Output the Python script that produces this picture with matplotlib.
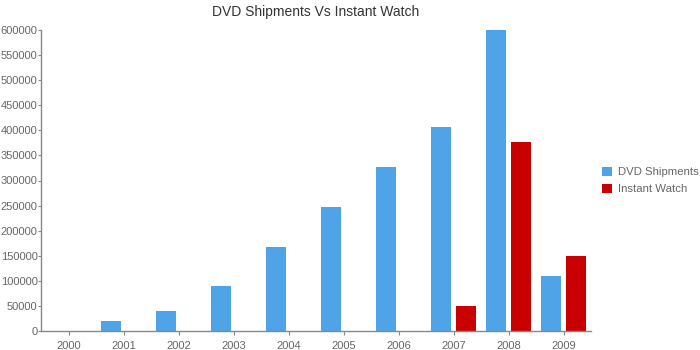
import numpy as np
import matplotlib
matplotlib.use('Agg')
import matplotlib.pyplot as plt

years = ['2000', '2001', '2002', '2003', '2004', '2005', '2006', '2007', '2008', '2009']
dvd_shipments = [0, 20000, 40000, 90000, 168000, 248000, 327000, 406000, 600000, 109000]
instant_watch = [0, 0, 0, 0, 0, 0, 0, 50000, 376000, 150000]

plt.rcParams['font.family'] = ['Liberation Sans', 'DejaVu Sans']

txt_col = '#666666'
axis_col = '#888888'

fig = plt.figure(figsize=(7, 3.5), dpi=100)
ax = fig.add_axes([41 / 700, 19 / 350, 550 / 700, 301 / 350])

x = np.arange(len(years))
w = 20 / 55
off = 12.5 / 55
ax.bar(x - off, dvd_shipments, w, color='#4FA3E7', label='DVD Shipments')
ax.bar(x + off, instant_watch, w, color='#C90000', label='Instant Watch')

ax.set_xlim(-0.5, len(years) - 0.5)
ax.set_ylim(0, 600000)
ax.set_yticks(np.arange(0, 600001, 50000))
ax.set_xticks(x)
ax.set_xticklabels(years)

for s in ['top', 'right']:
    ax.spines[s].set_visible(False)
for s in ['left', 'bottom']:
    ax.spines[s].set_color(axis_col)
    ax.spines[s].set_linewidth(1)

ax.tick_params(axis='both', colors=axis_col, labelcolor=txt_col, labelsize=8,
               length=3, width=0.8)
ax.tick_params(axis='x', pad=4)
ax.tick_params(axis='y', pad=0, length=2.5)

ax.set_title('DVD Shipments Vs Instant Watch', fontsize=10, color='#333333', pad=10)

leg = ax.legend(loc='center left', bbox_to_anchor=(1.0, 0.5), frameon=False,
                fontsize=8.2, handlelength=0.85, handleheight=0.95,
                handletextpad=0.5, labelspacing=0.55, borderaxespad=0.6)
for t in leg.get_texts():
    t.set_color(txt_col)

fig.savefig('out.png', dpi=100)
